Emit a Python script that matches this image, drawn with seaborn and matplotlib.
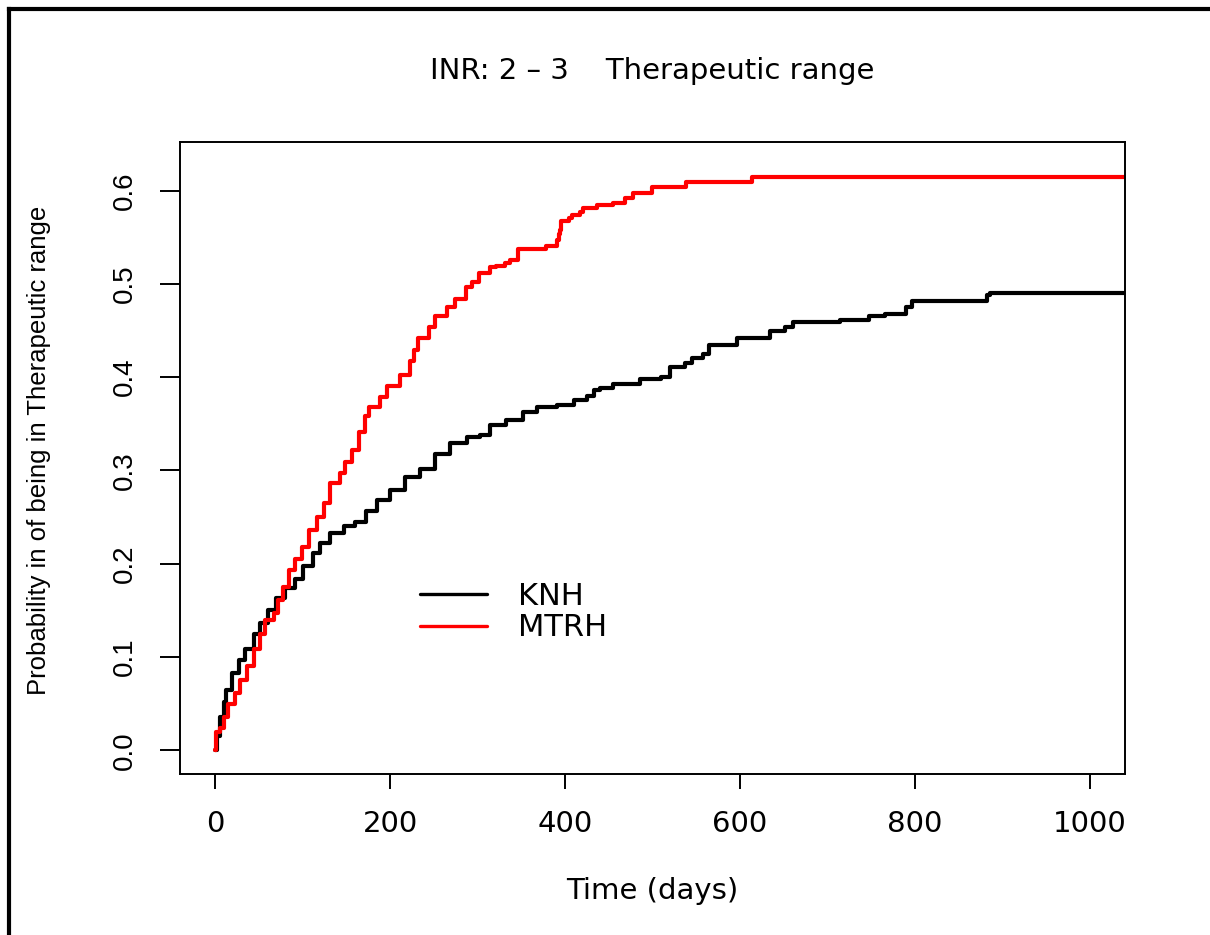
# INR 2-3 therapeutic range: cumulative probability curves (KNH vs MTRH)

import pandas as pd
import matplotlib
matplotlib.use("Agg")
import matplotlib.pyplot as plt
from matplotlib.lines import Line2D
import seaborn as sns

# data (step curves)
knh_days = [0, 2, 6, 10, 13, 19, 27, 34, 44, 51, 61, 70, 80, 91, 101, 112, 120,
            131, 147, 160, 173, 185, 200, 217, 234, 251, 268, 288, 303, 314, 333,
            352, 368, 391, 410, 425, 433, 440, 455, 486, 510, 520, 537, 545, 558,
            564, 596, 634, 651, 661, 714, 747, 766, 790, 796, 882, 886, 1060]
knh_prob = [0.000, 0.015, 0.036, 0.052, 0.065, 0.083, 0.097, 0.109, 0.125, 0.136,
            0.150, 0.163, 0.174, 0.184, 0.197, 0.211, 0.222, 0.233, 0.240, 0.245,
            0.256, 0.268, 0.279, 0.293, 0.301, 0.318, 0.329, 0.336, 0.338, 0.349,
            0.354, 0.363, 0.368, 0.370, 0.375, 0.380, 0.386, 0.388, 0.393, 0.398,
            0.400, 0.411, 0.415, 0.420, 0.425, 0.434, 0.442, 0.449, 0.454, 0.459,
            0.461, 0.465, 0.468, 0.475, 0.482, 0.488, 0.490, 0.490]

mtrh_days = [0, 1, 6, 10, 15, 23, 29, 36, 44, 51, 57, 67, 72, 78, 84, 91, 99, 107,
             116, 124, 131, 143, 149, 156, 164, 171, 176, 189, 196, 211, 223, 227,
             232, 244, 251, 265, 274, 287, 294, 302, 314, 321, 331, 337, 346, 378,
             391, 393, 394, 395, 405, 408, 417, 421, 437, 455, 469, 478, 499, 538,
             614, 1060]
mtrh_prob = [0.000, 0.020, 0.024, 0.036, 0.050, 0.061, 0.075, 0.090, 0.109, 0.125,
             0.140, 0.147, 0.161, 0.175, 0.193, 0.205, 0.218, 0.236, 0.250, 0.265,
             0.286, 0.297, 0.309, 0.322, 0.341, 0.358, 0.368, 0.379, 0.390, 0.402,
             0.417, 0.429, 0.442, 0.454, 0.465, 0.475, 0.484, 0.497, 0.502, 0.512,
             0.518, 0.519, 0.522, 0.526, 0.537, 0.540, 0.547, 0.553, 0.558, 0.567,
             0.571, 0.574, 0.577, 0.581, 0.585, 0.587, 0.592, 0.597, 0.604, 0.609,
             0.615, 0.615]

x_ticks = [0, 200, 400, 600, 800, 1000]
y_ticks = [0.0, 0.1, 0.2, 0.3, 0.4, 0.5, 0.6]
y_tick_labels = ["0.0", "0.1", "0.2", "0.3", "0.4", "0.5", "0.6"]


def main():
    sns.set_style("ticks")
    plt.rcParams["font.family"] = ["DejaVu Sans"]
    plt.rcParams["text.color"] = "black"
    plt.rcParams["xtick.color"] = "black"
    plt.rcParams["ytick.color"] = "black"
    rot_font = ["Liberation Sans", "DejaVu Sans"]

    knh = pd.DataFrame({"days": knh_days, "prob": knh_prob})
    mtrh = pd.DataFrame({"days": mtrh_days, "prob": mtrh_prob})

    fig = plt.figure(figsize=(12.1, 9.35), dpi=100)
    ax = fig.add_axes([0.1488, 0.1722, 0.781, 0.6759])

    sns.lineplot(data=knh, x="days", y="prob", ax=ax, color="black", lw=3.0,
                 drawstyle="steps-post", estimator=None, sort=False, label="KNH")
    sns.lineplot(data=mtrh, x="days", y="prob", ax=ax, color="#ff0000", lw=3.0,
                 drawstyle="steps-post", estimator=None, sort=False, label="MTRH")

    ax.set_xlim(-40, 1040)
    ax.set_ylim(-0.0255, 0.652)
    ax.set_xticks(x_ticks)
    ax.set_xticklabels([str(t) for t in x_ticks], fontsize=21)
    ax.set_yticks(y_ticks)
    ax.set_yticklabels(y_tick_labels, fontsize=20, family=rot_font,
                       rotation=90, va="center")
    ax.tick_params(axis="x", length=10.8, width=1.4, pad=15)
    ax.tick_params(axis="y", length=14.4, width=1.4, pad=16)
    for s in ax.spines.values():
        s.set_linewidth(1.4)
        s.set_color("black")
    ax.set_xlabel("")
    ax.set_ylabel("")

    # titles and axis labels placed like the R base plot
    fig.text(0.5393, 1 - 71 / 935, "INR: 2 \u2013 3    Therapeutic range",
             ha="center", va="center", fontsize=21)
    fig.text(0.5393, 1 - 891 / 935, "Time (days)", ha="center", va="center",
             fontsize=21)
    fig.text(39 / 1210, 1 - 450 / 935,
             "Probability in of being in Therapeutic range",
             rotation=90, ha="center", va="center", fontsize=18.5, family=rot_font)

    leg = ax.legend(loc="upper left", bbox_to_anchor=(420 / 1210, 1 - 582 / 935),
                    bbox_transform=fig.transFigure, frameon=False, fontsize=22,
                    handlelength=2.2, handletextpad=1.0, labelspacing=0.08,
                    borderpad=0, borderaxespad=0)
    for h in leg.get_lines():
        h.set_linewidth(2.4)

    # thick frame at top and left of the image
    fig.add_artist(Line2D([9 / 1210, 1], [1 - 9 / 935, 1 - 9 / 935],
                          transform=fig.transFigure, color="black", lw=3,
                          solid_capstyle="projecting"))
    fig.add_artist(Line2D([9 / 1210, 9 / 1210], [1 - 9 / 935, 0],
                          transform=fig.transFigure, color="black", lw=3,
                          solid_capstyle="projecting"))

    fig.savefig("out.png", dpi=100)


if __name__ == "__main__":
    main()
